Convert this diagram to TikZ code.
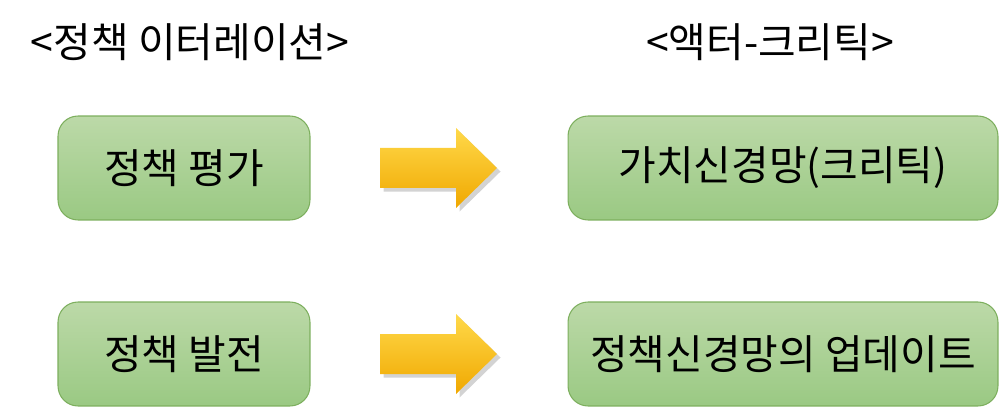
\documentclass[tikz,border=0pt]{standalone}
\usepackage{fontspec}
\setmainfont{Noto Sans CJK KR}
\usetikzlibrary{shadows}
\definecolor{gtop}{HTML}{BCD9A8}
\definecolor{gbot}{HTML}{9AC983}
\definecolor{gedge}{HTML}{7DAF5E}
\definecolor{ytop}{HTML}{FFD94A}
\definecolor{ybot}{HTML}{F0A800}
\tikzset{
 box/.style={draw=gedge, line width=0.6pt, rounded corners=0.4cm, top color=gtop, bottom color=gbot, minimum height=2.08cm, font=\fontsize{23.3}{28}\selectfont, inner sep=0pt},
 title/.style={font=\fontsize{23.3}{28}\selectfont},
 bigarrow/.style={draw=none, top color=ytop, bottom color=ybot, drop shadow={shadow xshift=2pt, shadow yshift=-2pt, opacity=0.35}}
}
\begin{document}
\begin{tikzpicture}[x=0.02cm,y=-0.02cm]
\useasboundingbox (0,0) rectangle (1000,408);
\node[title] (t1) at (190,42) {<정책 이터레이션>};
\node[title] (t2) at (770,42) {<액터-크리틱>};
\node[box, minimum width=5.04cm] (a1) at (184,168) {정책 평가};
\node[box, minimum width=5.04cm] (a2) at (184,354) {정책 발전};
\node[box, minimum width=8.6cm] (b1) at (783,168) {가치신경망(크리틱)};
\node[box, minimum width=8.6cm] (b2) at (783,354) {정책신경망의 업데이트};
\foreach \y in {168,354}{
 \path[bigarrow] (380,\y-20) -- (456,\y-20) -- (456,\y-40) -- (497,\y) -- (456,\y+40) -- (456,\y+20) -- (380,\y+20) -- cycle;
}
\end{tikzpicture}
\end{document}
